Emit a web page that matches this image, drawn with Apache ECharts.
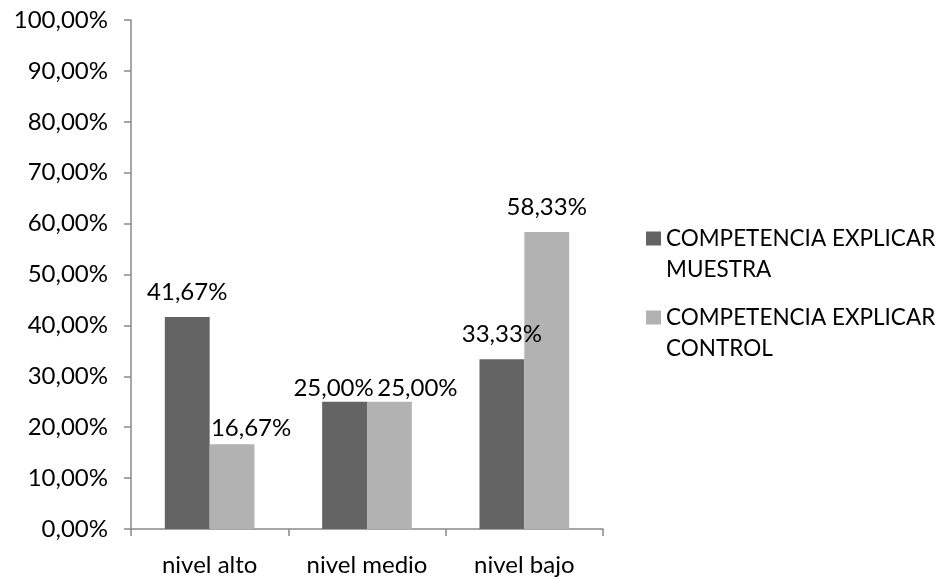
<!DOCTYPE html>
<html>
<head>
<meta charset="utf-8">
<script src="https://cdn.jsdelivr.net/npm/echarts@6/dist/echarts.min.js"></script>
<style>
  html, body { margin: 0; padding: 0; background: #ffffff; }
  #chart { width: 941px; height: 577px; }
</style>
</head>
<body>
<div id="chart"></div>
<script>
// Categories and series values (percent)
const categories = ['nivel alto', 'nivel medio', 'nivel bajo'];
const seriesNames = ['COMPETENCIA EXPLICAR\nMUESTRA', 'COMPETENCIA EXPLICAR\nCONTROL'];
const muestraValues = [41.67, 25.00, 33.33];
const controlValues = [16.67, 25.00, 58.33];

// Label nudges for labels that were moved aside to avoid overlapping
const muestraLabelOffsets = [[0, 0], [-11, 12], [0, 0]];
const controlLabelOffsets = [[19, 9], [28, 12], [0, 0]];

const FONT = 'Lato';
const FS = 24;
const AXIS_COLOR = '#898989';

function pct(v) {
  return v.toFixed(2).replace('.', ',') + '%';
}

function buildData(values, offsets) {
  return values.map((v, i) => ({
    value: v,
    label: { offset: offsets[i] }
  }));
}

const labelStyle = {
  show: true,
  position: 'top',
  distance: 13,
  fontFamily: FONT,
  fontSize: FS,
  lineHeight: FS,
  color: '#000000',
  formatter: p => pct(p.value)
};

const chart = echarts.init(document.getElementById('chart'), null, { renderer: 'canvas' });

chart.setOption({
  animation: false,
  backgroundColor: '#ffffff',
  grid: { left: 131, right: 338, top: 20, bottom: 47, containLabel: false },
  legend: {
    orient: 'vertical',
    left: 646,
    top: 192,
    padding: 0,
    itemWidth: 15,
    itemHeight: 14,
    itemGap: -14,
    itemTextGap: 7,
    icon: 'rect',
    // leading blank line keeps the marker level with the first text line
    formatter: name => '\n' + name,
    textStyle: {
      fontFamily: FONT,
      fontSize: 22.5,
      lineHeight: 31,
      color: '#000000'
    },
    data: seriesNames
  },
  xAxis: {
    type: 'category',
    data: categories,
    boundaryGap: true,
    axisLine: { show: true, lineStyle: { color: AXIS_COLOR, width: 1.5 } },
    axisTick: { show: true, length: 7, alignWithLabel: false, lineStyle: { color: AXIS_COLOR, width: 1.5 } },
    axisLabel: { fontFamily: FONT, fontSize: FS, lineHeight: FS, color: '#000000', margin: 24 },
    splitLine: { show: false }
  },
  yAxis: {
    type: 'value',
    min: 0,
    max: 100,
    interval: 10,
    axisLine: { show: true, lineStyle: { color: AXIS_COLOR, width: 1.5 } },
    axisTick: { show: true, length: 7, lineStyle: { color: AXIS_COLOR, width: 1.5 } },
    axisLabel: {
      fontFamily: FONT, fontSize: FS, color: '#000000', margin: 23,
      formatter: v => pct(v)
    },
    splitLine: { show: false }
  },
  series: [
    {
      name: seriesNames[0],
      type: 'bar',
      data: buildData(muestraValues, muestraLabelOffsets),
      itemStyle: { color: '#646464' },
      barGap: '0%',
      barCategoryGap: '43%',
      label: labelStyle
    },
    {
      name: seriesNames[1],
      type: 'bar',
      data: buildData(controlValues, controlLabelOffsets),
      itemStyle: { color: '#b2b2b2' },
      barGap: '0%',
      barCategoryGap: '43%',
      label: labelStyle
    }
  ]
});
</script>
</body>
</html>
